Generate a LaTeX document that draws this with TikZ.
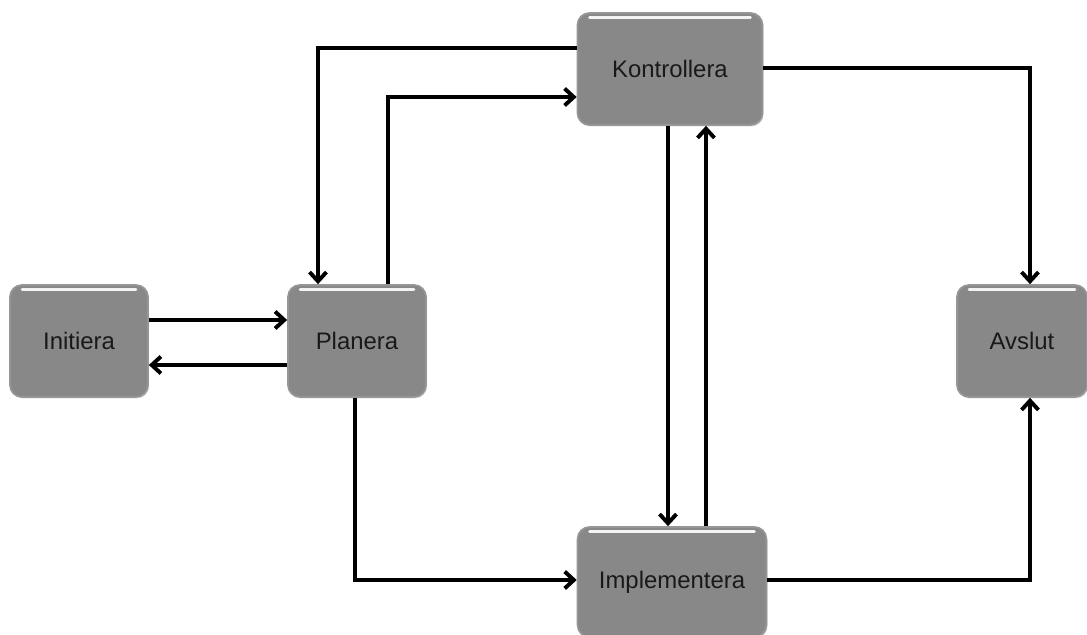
\documentclass[tikz,border=0pt]{standalone}
\usepackage{fontspec}
\setmainfont{Liberation Sans}
\usetikzlibrary{arrows.meta,shadows}

\definecolor{boxgray}{RGB}{136,136,136}
\definecolor{boxedge}{RGB}{150,150,150}
\definecolor{txtgray}{RGB}{25,25,25}

\tikzset{
  fas/.style={rounded corners=0.3cm, fill=boxgray, draw=boxedge, line width=1.2pt,
    minimum width=3.45cm, minimum height=2.8cm, inner sep=0pt, text=txtgray,
    font=\fontsize{17}{20}\selectfont,
    drop shadow={opacity=0.3, shadow xshift=0.8pt, shadow yshift=-1pt},
    path picture={
      \draw[white, line width=2pt, line cap=round, opacity=0.9]
        ([xshift=0.3cm,yshift=-0.12cm]path picture bounding box.north west)
        -- ([xshift=-0.3cm,yshift=-0.12cm]path picture bounding box.north east);
    }},
  flow/.style={line width=2.8pt, -{Straight Barb[length=6.5pt,width=12pt]}}
}

\begin{document}
\begin{tikzpicture}[x=0.025cm, y=-0.025cm]
\useasboundingbox (0,0) rectangle (1087,635);

% faserna
\node[fas] (ini) at (79,341) {Initiera};
\node[fas] (pla) at (357,341) {Planera};
\node[fas, minimum width=4.625cm] (kon) at (670,69) {Kontrollera};
\node[fas, minimum width=4.72cm, minimum height=2.75cm] (imp) at (672,582) {Implementera};
\node[fas, minimum width=3.25cm] (avs) at (1022,341) {Avslut};

% pilar
\draw[flow] (ini.east |- 0,320) -- (pla.west |- 0,320);
\draw[flow] (pla.west |- 0,365) -- (ini.east |- 0,365);
\draw[flow] (kon.west |- 0,48) -| (pla.north -| 318,0);
\draw[flow] (pla.north -| 388,0) |- (kon.west |- 0,97);
\draw[flow] (kon.east |- 0,68) -| (avs.north -| 1030,0);
\draw[flow] (kon.south -| 668,0) -- (imp.north -| 668,0);
\draw[flow] (imp.north -| 706,0) -- (kon.south -| 706,0);
\draw[flow] (pla.south -| 355,0) |- (imp.west |- 0,580);
\draw[flow] (imp.east |- 0,580) -| (avs.south -| 1030,0);
\end{tikzpicture}
\end{document}
